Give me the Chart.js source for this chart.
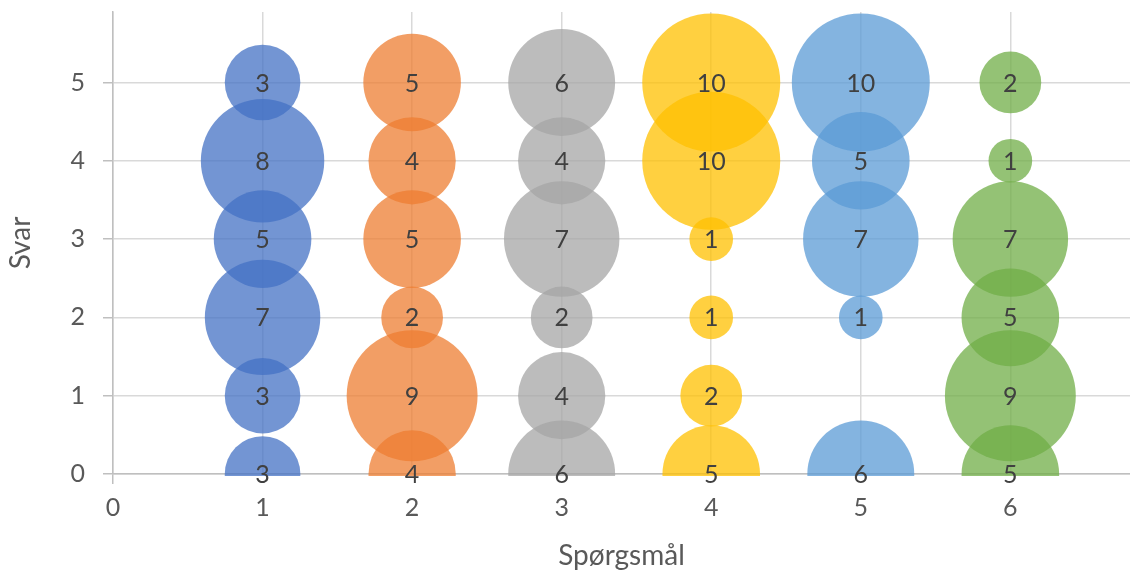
<!DOCTYPE html>
<html>
<head>
<meta charset="utf-8">
<script src="https://cdn.jsdelivr.net/npm/chart.js@4/dist/chart.umd.min.js"></script>
<style>
  body { margin: 0; background: #fff; }
  #wrap { width: 1130px; height: 573px; }
</style>
</head>
<body>
<div id="wrap"><canvas id="mycanvas" width="1130" height="573"></canvas></div>
<script>
// answer levels (y) and the number of replies per question at each level
var answers = [5, 4, 3, 2, 1, 0];
var q1 = [3, 8, 5, 7, 3, 3];
var q2 = [5, 4, 5, 2, 9, 4];
var q3 = [6, 4, 7, 2, 4, 6];
var q4 = [10, 10, 1, 1, 2, 5];
var q5 = [10, 5, 7, 1, 0, 6];
var q6 = [2, 1, 7, 5, 9, 5];
var questions = [q1, q2, q3, q4, q5, q6];

var colors = [
  "rgba(68, 114, 196, 0.75)",
  "rgba(237, 125, 49, 0.75)",
  "rgba(165, 165, 165, 0.75)",
  "rgba(255, 192, 0, 0.75)",
  "rgba(91, 155, 213, 0.75)",
  "rgba(112, 173, 71, 0.75)"
];

// bubble area follows the count, biggest count gets maxRadius
var maxRadius = 69;
var maxCount = 10;

var datasets = [];
for (var i in questions) {
  var points = [];
  for (var j in answers) {
    var v = questions[i][j];
    if (v > 0) {
      points.push({ x: Number(i) + 1, y: answers[j], v: v, r: maxRadius * Math.sqrt(v / maxCount) });
    }
  }
  datasets.push({
    label: "Spørgsmål " + (Number(i) + 1),
    data: points,
    backgroundColor: colors[i],
    borderWidth: 0,
    clip: { left: 0, top: 0, right: 0, bottom: 2 }
  });
}

// count written in the middle of each bubble
var bubbleLabels = {
  id: "bubbleLabels",
  afterDatasetsDraw: function(chart) {
    var ctx = chart.ctx;
    ctx.save();
    ctx.font = "25px Lato";
    ctx.fillStyle = "#404040";
    ctx.textAlign = "center";
    ctx.textBaseline = "middle";
    chart.data.datasets.forEach(function(ds, i) {
      chart.getDatasetMeta(i).data.forEach(function(pt, j) {
        ctx.fillText(ds.data[j].v, pt.x, pt.y + 1);
      });
    });
    ctx.restore();
  }
};

function wholeTicks(scale) {
  scale.ticks = scale.ticks.filter(function(t) { return Number.isInteger(t.value); });
}

var tickFont = { family: "Lato", size: 25 };
var titleFont = { family: "Lato", size: 28 };

var ctx = document.getElementById("mycanvas");
var bubbleChart = new Chart(ctx, {
  type: "bubble",
  data: { datasets: datasets },
  plugins: [bubbleLabels],
  options: {
    responsive: false,
    animation: false,
    events: [],
    layout: { autoPadding: false, padding: { top: 12, right: 0, left: 0, bottom: 0 } },
    plugins: {
      legend: { display: false },
      tooltip: { enabled: false }
    },
    scales: {
      x: {
        type: "linear",
        min: 0,
        max: 6.8,
        afterBuildTicks: wholeTicks,
        afterFit: function(scale) {
          scale.height = 99;
          scale.paddingLeft = 0;
          scale.paddingRight = 0;
        },
        ticks: { stepSize: 1, color: "#595959", font: tickFont, padding: 9, maxRotation: 0 },
        grid: {
          color: "#d9d9d9",
          lineWidth: 1.5,
          tickLength: 10,
          tickColor: function(c) { return c.tick && c.tick.value === 0 ? "#bfbfbf" : "rgba(0,0,0,0)"; }
        },
        border: { color: "#bfbfbf", width: 1.5 },
        title: { display: true, text: "Spørgsmål", color: "#595959", font: titleFont, padding: { top: 0, bottom: 0 } }
      },
      y: {
        type: "linear",
        min: 0,
        max: 5.9,
        afterBuildTicks: wholeTicks,
        afterFit: function(scale) {
          scale.width = 113;
          scale.paddingTop = 0;
          scale.paddingBottom = 0;
        },
        ticks: { stepSize: 1, color: "#595959", font: tickFont, padding: 18 },
        grid: { color: "#d9d9d9", lineWidth: 1.5, tickLength: 10, tickColor: "#bfbfbf" },
        border: { color: "#bfbfbf", width: 1.5 },
        title: { display: true, text: "Svar", color: "#595959", font: titleFont, padding: { top: 4, bottom: 0 } }
      }
    }
  }
});
</script>
</body>
</html>
